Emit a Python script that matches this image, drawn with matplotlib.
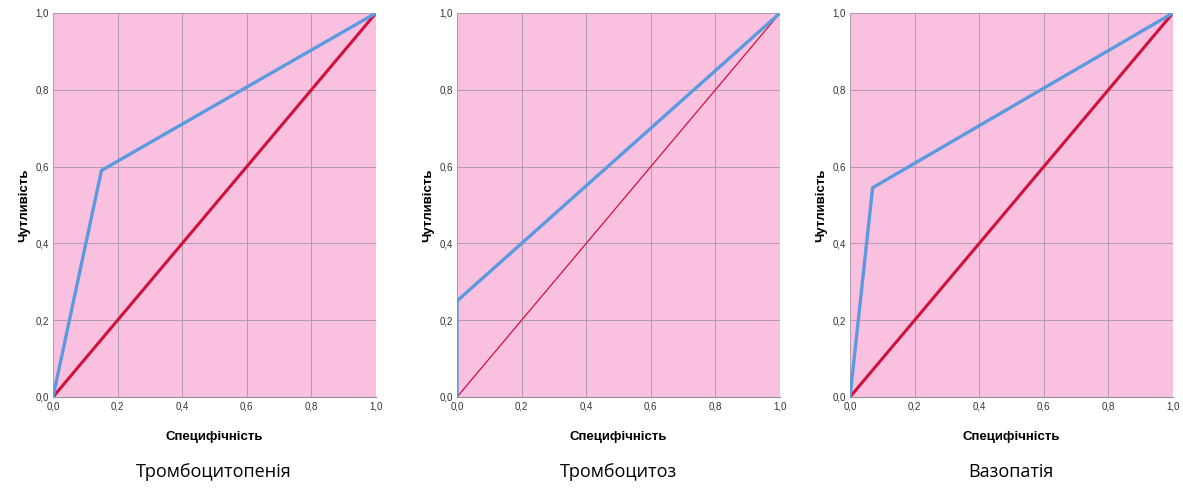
import numpy as np
import matplotlib.pyplot as plt
from matplotlib.ticker import FuncFormatter

titles = ["Тромбоцитопенія", "Тромбоцитоз", "Вазопатія"]
roc_x = [[0.0, 0.15, 1.0], [0.0, 0.0, 1.0], [0.0, 0.07, 1.0]]
roc_y = [[0.0, 0.59, 1.0], [0.0, 0.25, 1.0], [0.0, 0.545, 1.0]]
ref_x = [0.0, 1.0]
ref_y = [0.0, 1.0]
ticks = [0.0, 0.2, 0.4, 0.6, 0.8, 1.0]

bg = "#f9c1df"
blue = "#5c9ae0"
red = "#d3103c"
ref_lw = [2.2, 0.9, 2.2]

plt.rcParams['font.family'] = ['Liberation Sans', 'DejaVu Sans']
fig = plt.figure(figsize=[11.83, 4.88], dpi=100)
lefts = [53, 457, 850]
fmt = FuncFormatter(lambda v, p: ("%.1f" % v).replace(".", ","))

for i in range(3):
    ax = fig.add_axes([lefts[i] / 1183, 91 / 488, 323 / 1183, 384 / 488])
    ax.set_facecolor(bg)
    ax.plot(ref_x, ref_y, color=red, lw=ref_lw[i], zorder=3)
    ax.plot(roc_x[i], roc_y[i], color=blue, lw=2.4, zorder=4)
    ax.set_xlim(0, 1)
    ax.set_ylim(0, 1)
    ax.set_xticks(ticks)
    ax.set_yticks(ticks)
    ax.xaxis.set_major_formatter(fmt)
    ax.yaxis.set_major_formatter(fmt)
    ax.grid(True, color="#b09aae", lw=0.7)
    ax.set_axisbelow(True)
    for s in ["top", "right", "left"]:
        ax.spines[s].set_visible(False)
    ax.spines["bottom"].set_color("#9a8f99")
    ax.tick_params(length=0, labelsize=7, colors="#333333", pad=3)
    ax.set_xlabel("Специфічність", fontsize=9.5, fontweight="bold", labelpad=14)
    ax.set_ylabel("Чутливість", fontsize=9.5, fontweight="bold", labelpad=4)
    fig.text((lefts[i] + 161) / 1183, 16 / 488, titles[i], ha="center",
             va="center", fontsize=13, family="Open Sans")

plt.savefig("out.png", dpi=100)
